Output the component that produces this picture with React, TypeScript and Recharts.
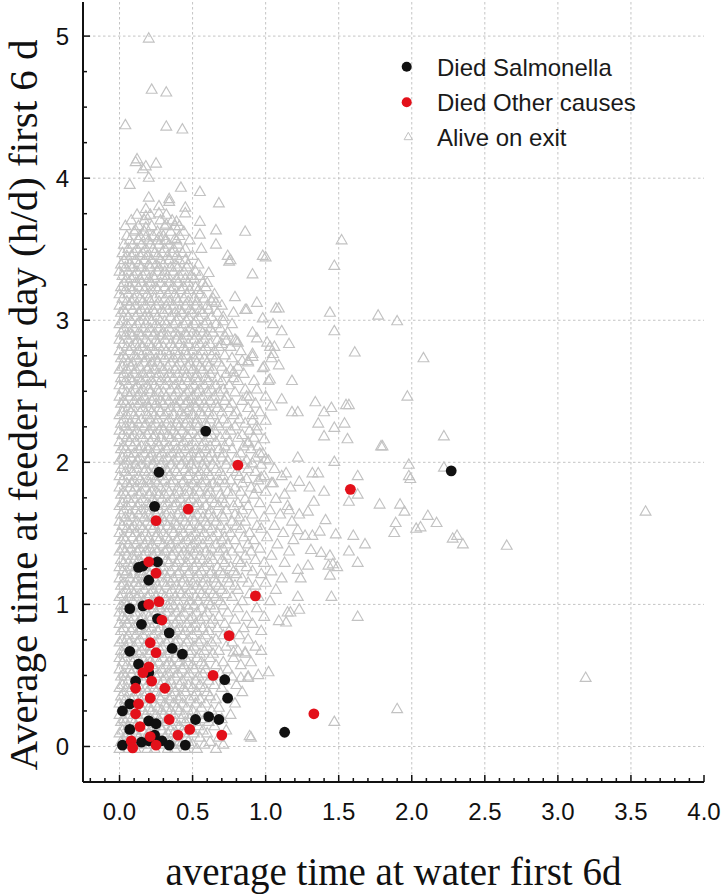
import React from 'react';
import { ScatterChart, Scatter, XAxis, YAxis, CartesianGrid, Customized } from 'recharts';

// ---------------- tick labels ----------------
const xMajorTicks = [0, 0.5, 1, 1.5, 2, 2.5, 3, 3.5, 4];
const xTickLabels = ['0.0', '0.5', '1.0', '1.5', '2.0', '2.5', '3.0', '3.5', '4.0'];
const yMajorTicks = [0, 1, 2, 3, 4, 5];
const yTickLabels = ['0', '1', '2', '3', '4', '5'];
const xMinorTicks = Array.from({ length: 43 }, (_, i) => (i - 2) / 10);
const yMinorTicks = Array.from({ length: 21 }, (_, i) => i * 0.25);

// ---------------- series: Died Salmonella (x, y) ----------------
const diedSalmonella: [number, number][] = [
  [0.59, 2.22], [0.27, 1.93], [0.24, 1.69], [0.13, 1.26], [0.16, 1.27], [0.26, 1.3], [0.2, 1.17],
  [0.07, 0.97], [0.16, 0.99], [0.15, 0.86], [0.26, 0.9], [0.34, 0.8], [0.36, 0.69], [0.43, 0.65],
  [0.07, 0.67], [0.13, 0.58], [0.2, 0.52], [0.72, 0.47], [0.11, 0.46], [0.74, 0.34], [0.07, 0.3],
  [0.02, 0.25], [0.2, 0.18], [0.25, 0.16], [0.52, 0.19], [0.61, 0.21], [0.68, 0.19], [0.07, 0.12],
  [1.13, 0.1], [0.24, 0.08], [0.29, 0.04], [0.02, 0.01], [0.15, 0.03], [0.34, 0.01], [0.45, 0.01],
  [0.2, 0.04], [2.27, 1.94],
];

// ---------------- series: Died Other causes (x, y) ----------------
const diedOther: [number, number][] = [
  [0.81, 1.98], [1.58, 1.81], [0.47, 1.67], [0.25, 1.59], [0.2, 1.3], [0.25, 1.22], [0.93, 1.06],
  [0.2, 1.0], [0.27, 1.02], [0.29, 0.89], [0.75, 0.78], [0.21, 0.73], [0.25, 0.66], [0.64, 0.5],
  [0.2, 0.56], [0.16, 0.52], [0.22, 0.46], [0.11, 0.41], [0.31, 0.41], [0.21, 0.34], [0.13, 0.3],
  [0.11, 0.23], [1.33, 0.23], [0.34, 0.19], [0.14, 0.14], [0.48, 0.12], [0.4, 0.08], [0.7, 0.08],
  [0.08, 0.04], [0.09, -0.01], [0.25, 0.01], [0.21, 0.07],
];

// ---------------- series: Alive on exit ----------------
// dense cloud, read band by band: [y, x, x, ...] in hundredths
const aliveCloudLow: number[][] = [
  [-2, 0, 6, 11, 19, 24, 33, 38, 45, 53, 66],
  [1, 3, 8, 15, 21, 30, 36, 42, 50, 58, 71],
  [3, 1, 10, 14, 23, 27, 34, 41, 47, 62],
  [6, 4, 7, 13, 18, 26, 31, 39, 46, 55, 68],
  [9, 0, 5, 12, 20, 25, 33, 37, 44, 51, 60],
  [11, 2, 9, 16, 21, 29, 35, 43, 49, 57, 73],
  [14, 6, 11, 17, 24, 28, 36, 41, 54, 65],
  [17, 1, 4, 10, 19, 23, 31, 38, 45, 52, 61],
  [19, 3, 8, 14, 21, 27, 33, 42, 48, 58, 70],
  [22, 0, 7, 12, 18, 25, 30, 37, 44, 53, 76],
  [25, 5, 9, 16, 22, 29, 35, 41, 50, 63],
  [27, 2, 11, 15, 20, 26, 32, 39, 46, 56, 68],
  [30, 0, 6, 13, 19, 24, 31, 37, 43, 52, 59, 79],
  [33, 4, 8, 14, 22, 28, 34, 40, 48, 55, 66],
  [35, 1, 10, 17, 21, 27, 36, 42, 51, 62, 74],
  [38, 3, 7, 12, 19, 25, 30, 38, 45, 53, 60, 84],
  [41, 0, 5, 14, 18, 24, 32, 37, 44, 50, 58, 70],
  [43, 2, 9, 13, 22, 28, 33, 41, 47, 55, 65, 80],
  [46, 6, 11, 16, 21, 30, 35, 43, 52, 61, 72],
  [49, 1, 4, 12, 19, 25, 31, 38, 46, 54, 63, 77, 88],
  [51, 3, 8, 15, 20, 27, 34, 40, 48, 57, 69],
  [54, 0, 7, 10, 17, 24, 29, 37, 43, 51, 59, 74],
  [57, 5, 12, 18, 23, 32, 36, 44, 50, 58, 66, 83],
  [59, 2, 9, 14, 21, 27, 34, 41, 47, 56, 71, 90],
  [62, 0, 4, 11, 16, 25, 30, 38, 45, 53, 62, 78],
  [65, 3, 8, 13, 20, 26, 33, 39, 48, 55, 64, 86],
  [67, 1, 6, 15, 22, 28, 35, 42, 49, 58, 68, 81],
  [70, 4, 10, 17, 21, 29, 36, 44, 51, 60, 73, 93],
  [73, 0, 7, 12, 19, 24, 32, 38, 46, 54, 63, 77],
  [75, 2, 5, 14, 20, 27, 34, 40, 47, 56, 66, 88],
  [78, 6, 11, 16, 23, 30, 37, 43, 50, 59, 71, 82],
  [81, 1, 8, 13, 19, 26, 31, 39, 45, 53, 61, 75, 97],
  [83, 3, 9, 15, 22, 28, 35, 41, 49, 57, 67, 85],
  [86, 0, 5, 12, 18, 24, 33, 38, 46, 52, 62, 72, 91],
  [89, 4, 7, 14, 21, 27, 31, 40, 48, 55, 64, 79],
  [91, 2, 10, 16, 20, 29, 36, 42, 50, 58, 68, 87, 99],
  [94, 0, 6, 11, 19, 25, 32, 39, 44, 53, 60, 74],
  [97, 3, 8, 15, 23, 28, 34, 41, 47, 56, 65, 81, 94],
  [99, 1, 5, 13, 18, 26, 33, 37, 46, 51, 62, 71],
];
const aliveCloudMid: number[][] = [
  [102, 4, 9, 16, 22, 27, 35, 40, 48, 54, 61, 69, 84, 103],
  [105, 0, 7, 12, 19, 25, 31, 38, 45, 52, 59, 66, 77, 95],
  [107, 2, 10, 14, 21, 29, 34, 42, 47, 56, 64, 73, 89],
  [110, 5, 8, 17, 23, 27, 36, 41, 49, 55, 62, 70, 81, 107],
  [113, 1, 6, 13, 20, 26, 32, 39, 46, 53, 60, 68, 79, 93],
  [115, 3, 11, 15, 22, 30, 35, 43, 50, 57, 66, 75, 88, 100],
  [118, 0, 7, 12, 18, 24, 33, 37, 44, 52, 59, 65, 74, 84, 111],
  [121, 4, 9, 16, 21, 28, 31, 40, 47, 54, 62, 71, 80, 97],
  [123, 2, 5, 14, 19, 26, 35, 41, 48, 56, 63, 69, 78, 91, 104],
  [126, 0, 8, 11, 17, 23, 30, 38, 45, 51, 58, 67, 76, 87],
  [129, 3, 6, 15, 22, 27, 34, 39, 46, 53, 61, 72, 83, 99, 113],
  [131, 1, 10, 13, 20, 25, 32, 41, 49, 57, 64, 70, 81, 93],
  [134, 5, 9, 16, 23, 29, 36, 42, 47, 55, 62, 73, 86, 104],
  [137, 0, 4, 12, 18, 26, 31, 37, 44, 51, 59, 68, 77, 90, 116],
  [139, 2, 8, 14, 21, 24, 33, 40, 48, 54, 63, 71, 82, 96],
  [142, 6, 11, 17, 22, 30, 35, 43, 50, 57, 66, 74, 88, 108],
  [145, 1, 4, 13, 19, 27, 34, 39, 46, 53, 61, 70, 79, 92, 119],
  [147, 3, 9, 15, 20, 25, 32, 41, 49, 56, 64, 72, 85, 101],
  [150, 0, 7, 11, 18, 26, 30, 37, 44, 52, 58, 67, 76, 89, 112],
  [153, 5, 8, 16, 23, 28, 36, 42, 48, 55, 63, 73, 83, 97],
  [155, 2, 10, 14, 21, 24, 33, 39, 47, 54, 60, 69, 80, 94, 106],
  [158, 0, 6, 12, 19, 27, 31, 38, 45, 51, 59, 66, 77, 86, 118],
  [161, 4, 9, 17, 22, 29, 35, 43, 50, 57, 64, 71, 82, 99],
  [163, 1, 7, 13, 20, 25, 32, 40, 46, 53, 61, 70, 79, 91, 110],
  [166, 3, 11, 15, 18, 27, 34, 41, 48, 56, 62, 73, 84, 103],
  [169, 0, 5, 12, 21, 26, 30, 37, 44, 52, 59, 68, 78, 88, 115],
  [171, 2, 8, 14, 19, 24, 33, 39, 47, 54, 65, 72, 81, 96],
  [174, 6, 10, 16, 23, 29, 36, 42, 49, 57, 63, 70, 86, 107],
  [177, 1, 4, 13, 20, 27, 31, 38, 45, 51, 60, 69, 77, 92, 113],
  [179, 3, 9, 15, 22, 25, 34, 41, 48, 55, 62, 74, 83, 100],
  [182, 0, 7, 11, 18, 28, 32, 40, 46, 53, 61, 67, 79, 90, 117],
  [185, 5, 8, 16, 21, 26, 35, 43, 50, 56, 64, 72, 84, 105],
  [187, 2, 10, 14, 19, 24, 31, 37, 44, 52, 59, 68, 76, 95],
  [190, 0, 6, 13, 22, 27, 34, 41, 47, 54, 62, 71, 82, 99, 111],
  [193, 4, 9, 17, 20, 29, 33, 39, 48, 55, 60, 69, 80, 93],
  [195, 1, 7, 12, 18, 25, 32, 38, 45, 51, 58, 66, 77, 88, 106],
  [198, 3, 11, 15, 23, 28, 35, 42, 49, 57, 64, 73, 85, 97],
];
const aliveCloudHigh: number[][] = [
  [201, 0, 5, 12, 19, 24, 30, 37, 44, 50, 58, 65, 74, 87, 102],
  [203, 2, 8, 14, 21, 27, 33, 40, 47, 54, 61, 70, 80, 93],
  [206, 6, 10, 17, 22, 29, 36, 41, 49, 55, 63, 71, 83, 98],
  [209, 1, 4, 13, 20, 25, 32, 39, 45, 52, 59, 68, 77, 90],
  [211, 3, 9, 15, 18, 27, 34, 42, 48, 56, 62, 72, 85, 95],
  [214, 0, 7, 11, 21, 26, 31, 38, 44, 51, 58, 66, 75, 88],
  [217, 5, 8, 16, 23, 28, 35, 40, 47, 53, 61, 69, 81, 92],
  [219, 2, 10, 14, 19, 24, 33, 39, 46, 55, 63, 73, 84],
  [222, 0, 6, 12, 20, 27, 30, 37, 43, 50, 57, 65, 76, 89],
  [225, 4, 9, 17, 22, 29, 35, 41, 48, 54, 60, 68, 79, 94],
  [227, 1, 7, 13, 18, 25, 32, 39, 45, 52, 59, 67, 74, 86],
  [230, 3, 11, 15, 21, 26, 34, 40, 47, 53, 62, 71, 82],
  [233, 0, 5, 10, 19, 24, 31, 37, 44, 50, 57, 64, 78, 91],
  [235, 2, 8, 14, 22, 28, 33, 42, 46, 55, 61, 70, 80],
  [238, 6, 9, 16, 20, 27, 35, 39, 48, 52, 59, 67, 75, 88],
  [241, 1, 4, 13, 19, 25, 30, 38, 45, 51, 58, 66, 77, 93],
  [243, 3, 10, 15, 22, 28, 34, 41, 47, 54, 62, 72, 84],
  [246, 0, 7, 12, 17, 24, 32, 37, 44, 50, 57, 65, 73, 89],
  [249, 5, 8, 14, 21, 27, 30, 39, 46, 53, 60, 68, 79],
  [251, 2, 11, 16, 20, 26, 35, 40, 48, 55, 63, 71, 86],
  [254, 0, 6, 12, 19, 24, 31, 38, 43, 51, 58, 66, 75],
  [257, 4, 9, 15, 22, 28, 33, 41, 47, 54, 61, 70, 81, 92],
  [259, 1, 7, 13, 18, 25, 32, 37, 45, 52, 59, 67, 78],
  [262, 3, 10, 16, 21, 27, 34, 40, 46, 53, 62, 73, 85],
  [265, 0, 5, 11, 19, 24, 30, 38, 44, 50, 57, 64, 76],
  [267, 2, 8, 14, 20, 28, 33, 39, 47, 55, 61, 70, 81],
  [270, 6, 9, 17, 22, 26, 35, 41, 48, 53, 60, 68, 88],
  [273, 1, 4, 12, 18, 25, 31, 37, 43, 51, 58, 66, 77],
  [275, 3, 10, 15, 21, 28, 34, 40, 46, 54, 63, 72],
  [278, 0, 7, 13, 19, 24, 32, 38, 45, 50, 57, 65, 83],
  [281, 5, 8, 16, 22, 27, 30, 37, 44, 52, 59, 68, 76],
  [283, 2, 11, 14, 20, 26, 35, 41, 47, 55, 62, 70],
  [286, 0, 6, 12, 18, 25, 31, 39, 43, 51, 58, 67, 79],
  [289, 4, 9, 15, 23, 28, 33, 40, 46, 53, 60, 72],
  [291, 1, 7, 13, 19, 24, 30, 38, 45, 50, 57, 64, 74],
  [294, 3, 10, 16, 21, 27, 34, 41, 48, 55, 62, 69],
  [297, 0, 5, 12, 18, 25, 32, 37, 44, 51, 58, 66, 77],
  [299, 2, 8, 14, 22, 28, 31, 39, 46, 52, 60, 71],
  [302, 6, 11, 17, 20, 26, 35, 40, 47, 54, 63],
  [305, 1, 4, 13, 19, 24, 30, 38, 43, 50, 57, 67],
  [307, 3, 9, 15, 23, 29, 33, 41, 48, 55, 61],
  [310, 0, 7, 11, 18, 25, 32, 37, 45, 52, 60, 70],
  [313, 5, 8, 16, 21, 27, 34, 40, 47, 53, 63],
  [315, 2, 10, 14, 20, 24, 31, 39, 44, 51, 58],
  [318, 0, 6, 12, 19, 28, 33, 38, 46, 55, 65],
  [321, 4, 9, 17, 22, 26, 35, 42, 48, 54],
  [323, 1, 7, 13, 18, 25, 31, 37, 44, 52, 59],
  [326, 3, 11, 15, 21, 28, 34, 40, 47, 57],
  [329, 5, 8, 14, 20, 24, 32, 39, 45, 51],
  [331, 2, 10, 16, 23, 29, 33, 41, 49, 55],
  [334, 0, 6, 12, 18, 26, 31, 37, 44, 52],
  [337, 4, 9, 15, 21, 27, 35, 40, 46],
  [339, 1, 7, 13, 20, 25, 30, 38, 47, 54],
  [342, 3, 11, 17, 22, 28, 34, 41, 45],
  [345, 5, 8, 14, 19, 26, 33, 39, 50],
  [347, 2, 10, 16, 24, 29, 36, 43],
  [350, 6, 12, 18, 23, 31, 37, 45, 56],
  [353, 3, 9, 15, 21, 27, 34, 40],
  [356, 7, 13, 20, 26, 32, 39, 48],
  [359, 5, 14, 23, 30, 41],
  [362, 10, 17, 26, 35, 44],
  [366, 4, 13, 22, 31, 38],
  [370, 8, 17, 28, 36],
  [374, 12, 21, 32],
];
// scattered triangles outside the dense cloud: [x, y] in hundredths
const aliveScattered: number[][] = [
  [20, 498], [22, 462], [32, 460], [4, 437], [32, 436], [43, 434], [12, 413], [11, 411], [18, 408],
  [25, 410], [16, 406], [20, 400], [7, 395], [42, 393], [55, 390], [68, 382], [20, 386], [34, 385],
  [27, 380], [34, 383], [18, 378], [45, 379], [45, 375], [18, 373], [27, 375], [55, 369], [39, 369],
  [32, 367], [11, 363], [18, 365], [41, 366], [66, 363], [86, 362], [55, 360], [152, 356], [18, 358],
  [27, 358], [31, 356], [38, 357], [66, 353], [98, 345], [100, 344], [76, 342], [147, 338], [91, 332],
  [79, 316], [94, 312], [109, 308], [86, 307], [78, 305], [144, 305], [98, 301], [177, 303], [190, 299],
  [111, 292], [147, 292], [81, 284], [101, 284], [116, 283], [106, 281], [161, 277], [208, 273], [91, 276],
  [88, 271], [104, 273], [109, 268], [98, 266], [78, 263], [102, 257], [118, 257], [197, 246], [111, 244],
  [134, 242], [155, 240], [157, 240], [145, 238], [140, 235], [118, 235], [122, 235], [136, 227], [154, 227],
  [147, 224], [140, 218], [156, 216], [222, 218], [179, 211], [180, 211], [122, 203], [147, 200], [198, 198],
  [222, 196], [114, 192], [132, 192], [136, 192], [163, 190], [198, 190], [199, 188], [123, 186], [130, 182],
  [140, 179], [163, 177], [157, 172], [178, 170], [192, 170], [195, 165], [133, 172], [116, 166], [123, 163],
  [129, 165], [141, 159], [189, 157], [188, 150], [203, 153], [160, 148], [168, 142], [148, 149], [122, 152],
  [127, 148], [132, 148], [137, 151], [211, 162], [217, 157], [206, 154], [228, 146], [231, 148], [235, 142],
  [265, 141], [360, 165], [157, 137], [163, 129], [144, 134], [146, 128], [143, 127], [149, 126], [129, 127],
  [138, 136], [131, 138], [122, 124], [124, 118], [144, 120], [122, 105], [145, 105], [163, 91], [123, 96],
  [109, 88], [114, 87], [115, 94], [117, 94], [97, 67], [102, 52], [88, 48], [95, 50], [83, 48], [86, 66],
  [78, 66], [190, 26], [147, 17], [90, 6], [89, 7], [319, 48], [74, 345], [75, 341], [61, 333], [60, 326],
  [64, 315], [66, 312], [87, 307], [107, 308], [71, 302], [91, 291], [94, 287], [105, 297], [80, 285],
  [73, 285], [103, 281], [91, 274], [84, 271], [105, 276], [99, 267], [103, 258], [94, 251], [87, 246],
  [100, 246], [104, 239], [96, 235], [91, 229], [100, 229], [94, 222], [99, 216], [88, 213], [96, 206],
  [91, 199], [100, 202], [97, 189], [87, 188], [104, 185], [94, 181],
];

const toPts = (pairs: [number, number][]) => pairs.map(([x, y]) => ({ x, y }));
const cloudToPts = (rows: number[][]) =>
  rows.flatMap(([y, ...xs]) => xs.map((x) => ({ x: x / 100, y: y / 100 })));

const aliveData = [
  ...cloudToPts(aliveCloudLow),
  ...cloudToPts(aliveCloudMid),
  ...cloudToPts(aliveCloudHigh),
  ...aliveScattered.map(([x, y]) => ({ x: x / 100, y: y / 100 })),
];
const salmonellaData = toPts(diedSalmonella);
const otherData = toPts(diedOther);

// ---------------- styles ----------------
const SANS = "'Liberation Sans', Arial, Helvetica, sans-serif";
const SERIF = "'Liberation Serif', 'Times New Roman', Times, serif";
const INK = '#111111';
const RED = '#e3101a';
const GREY = '#c2c2c2';

const majorIndex = (arr: number[], v: number) => arr.findIndex((t) => Math.abs(t - v) < 1e-6);

const Triangle = (p: any) => {
  const { cx, cy } = p;
  if (cx == null || cy == null) return null;
  const s = 10.8;
  const h = (s * Math.sqrt(3)) / 2;
  return (
    <path
      d={`M${cx},${cy - (2 * h) / 3}L${cx + s / 2},${cy + h / 3}L${cx - s / 2},${cy + h / 3}Z`}
      fill="none"
      stroke={GREY}
      strokeWidth={1.15}
    />
  );
};
const makeDot = (color: string) => (p: any) => {
  const { cx, cy } = p;
  if (cx == null || cy == null) return null;
  return <circle cx={cx} cy={cy} r={5.4} fill={color} />;
};
const BlackDot = makeDot(INK);
const RedDot = makeDot(RED);

const BottomTick = (p: any) => {
  const { x, y, payload } = p;
  const i = majorIndex(xMajorTicks, payload.value);
  const major = i >= 0;
  return (
    <g>
      <line x1={x} x2={x} y1={y} y2={y - (major ? 7 : 4)} stroke={INK} strokeWidth={1.5} />
      {major && (
        <text x={x} y={y + 38} textAnchor="middle" fontFamily={SANS} fontSize={24} fill={INK}>
          {xTickLabels[i]}
        </text>
      )}
    </g>
  );
};
const TopTick = (p: any) => {
  const { x, y, payload } = p;
  const major = majorIndex(xMajorTicks, payload.value) >= 0;
  return <line x1={x} x2={x} y1={y} y2={y + (major ? 7 : 4)} stroke={INK} strokeWidth={1.5} />;
};
const LeftTick = (p: any) => {
  const { x, y, payload } = p;
  const i = majorIndex(yMajorTicks, payload.value);
  const major = i >= 0;
  return (
    <g>
      <line x1={x} x2={x + (major ? 7 : 4)} y1={y} y2={y} stroke={INK} strokeWidth={1.5} />
      {major && (
        <text x={x - 14} y={y + 8.5} textAnchor="end" fontFamily={SANS} fontSize={24} fill={INK}>
          {yTickLabels[i]}
        </text>
      )}
    </g>
  );
};
const RightTick = (p: any) => {
  const { x, y, payload } = p;
  const major = majorIndex(yMajorTicks, payload.value) >= 0;
  return <line x1={x} x2={x - (major ? 7 : 4)} y1={y} y2={y} stroke={INK} strokeWidth={1.5} />;
};

const legendItems = ['Died Salmonella', 'Died Other causes', 'Alive on exit'];

const Overlay = () => (
  <g>
    <g fontFamily={SANS} fontSize={24} fill="#1a1a1a">
      <circle cx={406.7} cy={66.7} r={5} fill={INK} />
      <text x={437} y={75.7}>{legendItems[0]}</text>
      <circle cx={406.7} cy={102.2} r={5} fill={RED} />
      <text x={437} y={111.2}>{legendItems[1]}</text>
      <path d="M408.3,132.3L412.5,139.7L404.1,139.7Z" fill="none" stroke={GREY} strokeWidth={1} />
      <text x={437} y={146.2}>{legendItems[2]}</text>
    </g>
    <text x={393.5} y={885} textAnchor="middle" fontFamily={SERIF} fontSize={39} fill={INK}>
      average time at water first 6d
    </text>
    <text
      x={37}
      y={405}
      textAnchor="middle"
      fontFamily={SERIF}
      fontSize={41}
      fill={INK}
      transform="rotate(-90, 37, 405)"
    >
      Average time at feeder per day (h/d) first 6 d
    </text>
  </g>
);

export default function App() {
  return (
    <div style={{ position: 'absolute', left: 0, top: 0, background: '#fff' }}>
      <ScatterChart width={721} height={894} margin={{ top: 2, right: 17, bottom: 0, left: 0 }}>
        <CartesianGrid
          stroke="#c4c4c4"
          strokeDasharray="2.5 2.5"
          horizontalValues={yMajorTicks}
          verticalValues={xMajorTicks.slice(0, 8)}
        />
        <XAxis
          type="number"
          dataKey="x"
          domain={[-0.25, 4]}
          ticks={xMinorTicks}
          interval={0}
          allowDataOverflow
          height={112}
          tick={BottomTick}
          tickLine={false}
          tickSize={0}
          tickMargin={0}
          axisLine={{ stroke: INK, strokeWidth: 2 }}
        />
        <XAxis
          xAxisId="top"
          orientation="top"
          type="number"
          domain={[-0.25, 4]}
          ticks={xMinorTicks}
          interval={0}
          allowDataOverflow
          height={0}
          tick={TopTick}
          tickLine={false}
          tickSize={0}
          tickMargin={0}
          axisLine={{ stroke: INK, strokeWidth: 2 }}
        />
        <YAxis
          type="number"
          dataKey="y"
          domain={[-0.25, 5.24]}
          ticks={yMinorTicks}
          interval={0}
          allowDataOverflow
          width={83}
          tick={LeftTick}
          tickLine={false}
          tickSize={0}
          tickMargin={0}
          axisLine={{ stroke: INK, strokeWidth: 2 }}
        />
        <YAxis
          yAxisId="right"
          orientation="right"
          type="number"
          domain={[-0.25, 5.24]}
          ticks={yMinorTicks}
          interval={0}
          allowDataOverflow
          width={0}
          tick={RightTick}
          tickLine={false}
          tickSize={0}
          tickMargin={0}
          axisLine={{ stroke: INK, strokeWidth: 2 }}
        />
        <Scatter name="Alive on exit" data={aliveData} shape={Triangle} isAnimationActive={false} />
        <Scatter name="Died Salmonella" data={salmonellaData} shape={BlackDot} isAnimationActive={false} />
        <Scatter name="Died Other causes" data={otherData} shape={RedDot} isAnimationActive={false} />
        <Customized component={Overlay} />
      </ScatterChart>
    </div>
  );
}
